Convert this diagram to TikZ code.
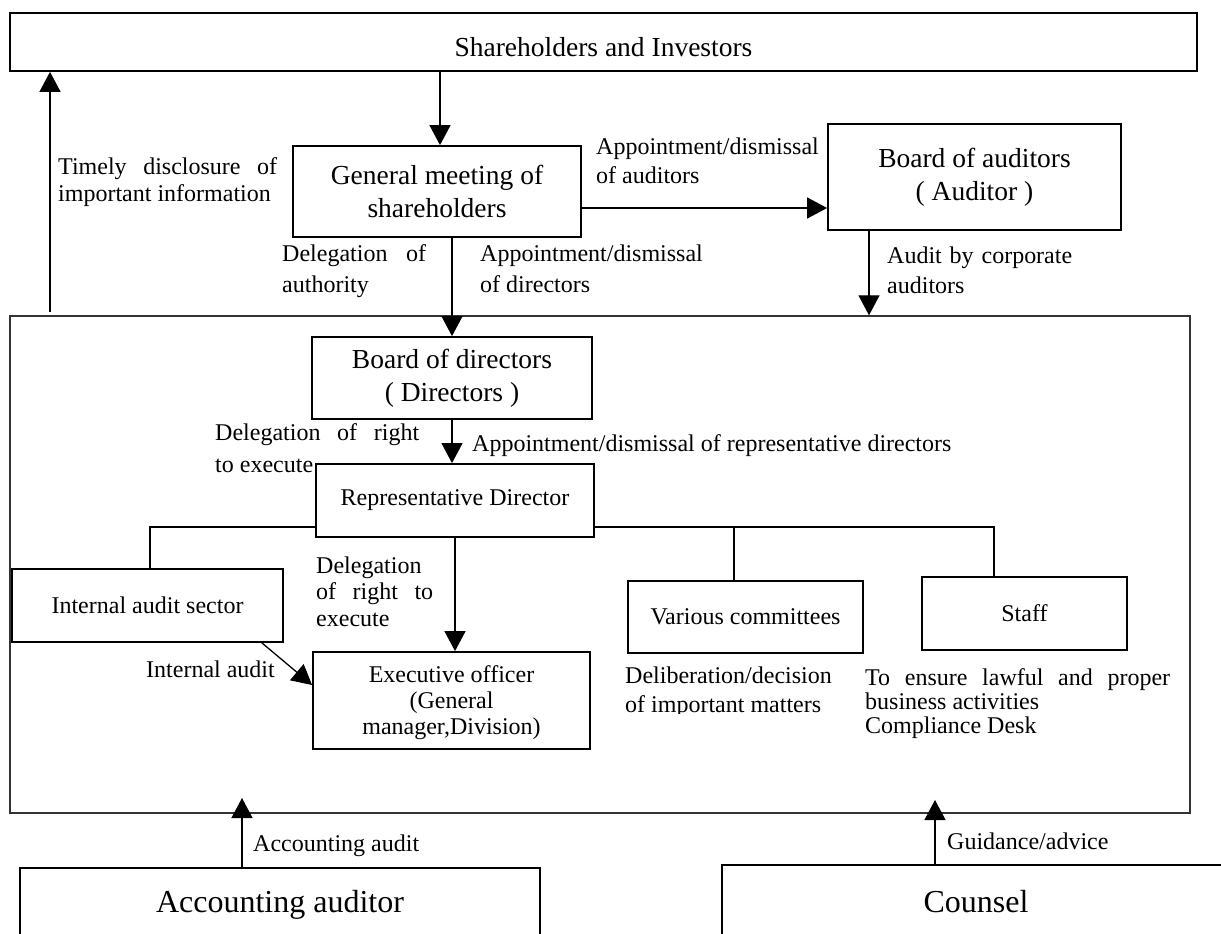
\documentclass[tikz,border=0pt]{standalone}
\usepackage{fontspec}
\setmainfont{Liberation Serif}
\usetikzlibrary{arrows.meta,calc}

% font sizes used in the chart
\newcommand\orgbig{\fontsize{27.5}{33}\selectfont}
\newcommand\orghuge{\fontsize{32}{38}\selectfont}
\newcommand\orgsmall[1]{\fontsize{24}{#1}\selectfont}

\begin{document}
\begin{tikzpicture}[x=1pt,y=-1pt,
  orgbox/.style={draw, line width=1.8pt, inner sep=0pt, align=center},
  corpframe/.style={draw=black!80, line width=1.4pt, inner sep=0pt},
  conn/.style={line width=1.3pt, -{Triangle[length=20pt,width=21pt]}},
  bus/.style={line width=1.3pt},
  lbl/.style={inner sep=0pt, anchor=north west, align=left},
]
\useasboundingbox (0,0) rectangle (1221,934);
\clip (0,0) rectangle (1221,934);

% ---- boxes ----
\node[orgbox, font=\orgbig, minimum width=1187pt, text height=44pt, text depth=14pt]
  (top) at (603.5,42) {Shareholders and Investors};
\node[orgbox, font=\orgbig, minimum width=288pt, minimum height=91pt]
  (gm) at (437,191.5) {General meeting of\\shareholders};
\node[orgbox, font=\orgbig, minimum width=293pt, minimum height=106pt]
  (aud) at (974.5,177) {Board of auditors\\( Auditor )};
\node[corpframe, minimum width=1180pt, minimum height=497pt]
  (corp) at (600,564.5) {};
\node[orgbox, font=\orgbig, minimum width=280pt, minimum height=82pt]
  (bod) at (452,378) {Board of directors\\( Directors )};
\node[orgbox, font=\orgsmall{27}, minimum width=278pt, minimum height=73pt]
  (rep) at (455,500.5) {Representative Director};
\node[orgbox, font=\orgsmall{27}, minimum width=271pt, minimum height=73pt]
  (ias) at (147.5,605.5) {Internal audit sector};
\node[orgbox, font=\orgsmall{27}, minimum width=235pt, minimum height=72pt]
  (vc) at (745.5,617) {Various committees};
\node[orgbox, font=\orgsmall{27}, minimum width=205pt, minimum height=73pt]
  (staff) at (1024.5,613.5) {Staff};
\node[orgbox, font=\orgsmall{26}, minimum width=277pt, minimum height=97pt,
      text depth=0pt]
  (exec) at (451.5,700.5) {Executive officer\\(General\\manager,Division)};
\node[orgbox, font=\orghuge, minimum width=520pt, minimum height=74pt]
  (acc) at (280,905) {Accounting auditor};
\node[orgbox, font=\orghuge, minimum width=508pt, minimum height=74pt]
  (cs) at (976,902) {Counsel};

% ---- connectors ----
\coordinate (disc) at (50,312);
\draw[conn] (disc) -- (disc |- top.south);
\draw[conn] ([xshift=3pt]gm.north |- top.south) -- ([xshift=3pt]gm.north);
\coordinate (gmR) at ([yshift=-16.5pt]gm.east);
\draw[conn] (gmR) -- (gmR -| aud.west);
\draw[conn] (gm.south -| bod.north) -- (bod.north);
\coordinate (audF) at ([xshift=-105.5pt]aud.south);
\draw[conn] (audF) -- (audF |- corp.north);
\draw[conn] (bod.south) -- (bod.south |- rep.north);

\coordinate (busL) at (150,527);
\coordinate (busV) at (734,527);
\coordinate (busR) at (994,527);
\draw[bus] (rep.west |- busL) -- (busL) -- (busL |- ias.north);
\draw[bus] (rep.east |- busR) -- (busR) -- (busR |- staff.north);
\draw[bus] (busV) -- (busV |- vc.north);
\draw[conn] (rep.south) -- (rep.south |- exec.north);
\draw[conn] ([xshift=-22pt]ias.south east) -- ([yshift=15.5pt]exec.west);

\coordinate (accT) at (242,798);
\draw[conn] (accT |- acc.north) -- (accT);
\coordinate (csT) at (935,800);
\draw[conn] (csT |- cs.north) -- (csT);

% ---- labels ----
\node[lbl, font=\orgsmall{27}] (lDisc) at (58,157.5)
  {\makebox[219pt][s]{Timely disclosure of}\\important information};
\node[lbl, font=\orgsmall{29}] (lAppAud) at (596,137.5)
  {Appointment/dismissal\\of auditors};
\node[lbl, font=\orgsmall{31}] (lDelAuth) at (282,244.5)
  {\makebox[144pt][s]{Delegation of}\\authority};
\node[lbl, font=\orgsmall{31}] (lAppDir) at (480,244.5)
  {Appointment/dismissal\\of directors};
\node[lbl, font=\orgsmall{30}] (lAudCorp) at (887,246.5)
  {\makebox[185pt][s]{Audit by corporate}\\auditors};
\node[lbl, font=\orgsmall{32}] (lDelRight) at (215,423.5)
  {\makebox[204pt][s]{Delegation of right}\\to execute};
\node[lbl, font=\orgsmall{27}] (lAppRep) at (472,434.5)
  {Appointment/dismissal of representative directors};
\node[lbl, font=\orgsmall{26.5}] (lDelExec) at (316,556.5)
  {Delegation\\\makebox[117pt][s]{of right to}\\execute};
\node[lbl, font=\orgsmall{27}] (lIntAud) at (146,660.5) {Internal audit};
% the text frame of this note cuts off its descenders
\begin{scope}
  \clip (600,650) rectangle (860,713);
  \node[lbl, font=\orgsmall{29}] (lDelib) at (625,666.5)
    {Deliberation/decision\\of important matters};
\end{scope}
\node[lbl, font=\orgsmall{24}] (lEnsure) at (865,668.5)
  {\makebox[305pt][s]{To ensure lawful and proper}\\business activities\\Compliance Desk};
\node[lbl, font=\orgsmall{27}] (lAccAud) at (253,834.5) {Accounting audit};
\node[lbl, font=\orgsmall{27}] (lGuide) at (947,832.5) {Guidance/advice};
\end{tikzpicture}
\end{document}
